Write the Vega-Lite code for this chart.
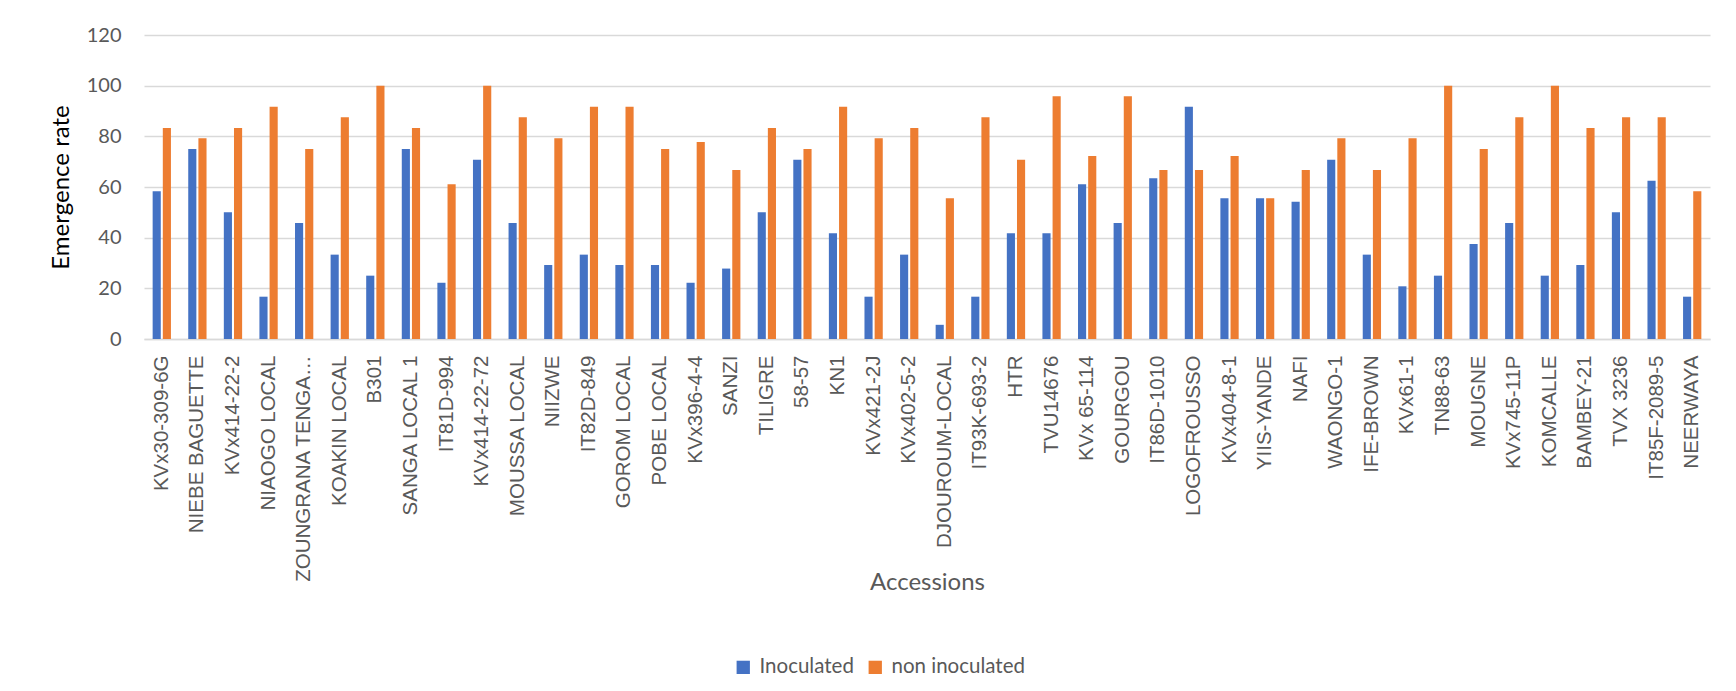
{
  "$schema": "https://vega.github.io/schema/vega-lite/v6.json",
  "width": 1566,
  "height": 304,
  "autosize": {"type": "none"},
  "padding": {"left": 144, "top": 35, "right": 26, "bottom": 352},
  "background": "white",
  "config": {"view": {"stroke": null}},
  "data": {
    "values": [
      {"accession": "KVx30-309-6G", "treatment": "Inoculated", "rate": 58.3},
      {"accession": "KVx30-309-6G", "treatment": "non inoculated", "rate": 83.3},
      {"accession": "NIEBE BAGUETTE", "treatment": "Inoculated", "rate": 75},
      {"accession": "NIEBE BAGUETTE", "treatment": "non inoculated", "rate": 79.2},
      {"accession": "KVx414-22-2", "treatment": "Inoculated", "rate": 50},
      {"accession": "KVx414-22-2", "treatment": "non inoculated", "rate": 83.3},
      {"accession": "NIAOGO LOCAL", "treatment": "Inoculated", "rate": 16.7},
      {"accession": "NIAOGO LOCAL", "treatment": "non inoculated", "rate": 91.7},
      {"accession": "ZOUNGRANA TENGA…", "treatment": "Inoculated", "rate": 45.8},
      {"accession": "ZOUNGRANA TENGA…", "treatment": "non inoculated", "rate": 75},
      {"accession": "KOAKIN LOCAL", "treatment": "Inoculated", "rate": 33.3},
      {"accession": "KOAKIN LOCAL", "treatment": "non inoculated", "rate": 87.5},
      {"accession": "B301", "treatment": "Inoculated", "rate": 25},
      {"accession": "B301", "treatment": "non inoculated", "rate": 100},
      {"accession": "SANGA LOCAL 1", "treatment": "Inoculated", "rate": 75},
      {"accession": "SANGA LOCAL 1", "treatment": "non inoculated", "rate": 83.3},
      {"accession": "IT81D-994", "treatment": "Inoculated", "rate": 22.2},
      {"accession": "IT81D-994", "treatment": "non inoculated", "rate": 61.1},
      {"accession": "KVx414-22-72", "treatment": "Inoculated", "rate": 70.8},
      {"accession": "KVx414-22-72", "treatment": "non inoculated", "rate": 100},
      {"accession": "MOUSSA LOCAL", "treatment": "Inoculated", "rate": 45.8},
      {"accession": "MOUSSA LOCAL", "treatment": "non inoculated", "rate": 87.5},
      {"accession": "NIIZWE", "treatment": "Inoculated", "rate": 29.2},
      {"accession": "NIIZWE", "treatment": "non inoculated", "rate": 79.2},
      {"accession": "IT82D-849", "treatment": "Inoculated", "rate": 33.3},
      {"accession": "IT82D-849", "treatment": "non inoculated", "rate": 91.7},
      {"accession": "GOROM LOCAL", "treatment": "Inoculated", "rate": 29.2},
      {"accession": "GOROM LOCAL", "treatment": "non inoculated", "rate": 91.7},
      {"accession": "POBE LOCAL", "treatment": "Inoculated", "rate": 29.2},
      {"accession": "POBE LOCAL", "treatment": "non inoculated", "rate": 75},
      {"accession": "KVx396-4-4", "treatment": "Inoculated", "rate": 22.2},
      {"accession": "KVx396-4-4", "treatment": "non inoculated", "rate": 77.8},
      {"accession": "SANZI", "treatment": "Inoculated", "rate": 27.8},
      {"accession": "SANZI", "treatment": "non inoculated", "rate": 66.7},
      {"accession": "TILIGRE", "treatment": "Inoculated", "rate": 50},
      {"accession": "TILIGRE", "treatment": "non inoculated", "rate": 83.3},
      {"accession": "58-57", "treatment": "Inoculated", "rate": 70.8},
      {"accession": "58-57", "treatment": "non inoculated", "rate": 75},
      {"accession": "KN1", "treatment": "Inoculated", "rate": 41.7},
      {"accession": "KN1", "treatment": "non inoculated", "rate": 91.7},
      {"accession": "KVx421-2J", "treatment": "Inoculated", "rate": 16.7},
      {"accession": "KVx421-2J", "treatment": "non inoculated", "rate": 79.2},
      {"accession": "KVx402-5-2", "treatment": "Inoculated", "rate": 33.3},
      {"accession": "KVx402-5-2", "treatment": "non inoculated", "rate": 83.3},
      {"accession": "DJOUROUM-LOCAL", "treatment": "Inoculated", "rate": 5.6},
      {"accession": "DJOUROUM-LOCAL", "treatment": "non inoculated", "rate": 55.6},
      {"accession": "IT93K-693-2", "treatment": "Inoculated", "rate": 16.7},
      {"accession": "IT93K-693-2", "treatment": "non inoculated", "rate": 87.5},
      {"accession": "HTR", "treatment": "Inoculated", "rate": 41.7},
      {"accession": "HTR", "treatment": "non inoculated", "rate": 70.8},
      {"accession": "TVU14676", "treatment": "Inoculated", "rate": 41.7},
      {"accession": "TVU14676", "treatment": "non inoculated", "rate": 95.8},
      {"accession": "KVx 65-114", "treatment": "Inoculated", "rate": 61.1},
      {"accession": "KVx 65-114", "treatment": "non inoculated", "rate": 72.2},
      {"accession": "GOURGOU", "treatment": "Inoculated", "rate": 45.8},
      {"accession": "GOURGOU", "treatment": "non inoculated", "rate": 95.8},
      {"accession": "IT86D-1010", "treatment": "Inoculated", "rate": 63.5},
      {"accession": "IT86D-1010", "treatment": "non inoculated", "rate": 66.7},
      {"accession": "LOGOFROUSSO", "treatment": "Inoculated", "rate": 91.7},
      {"accession": "LOGOFROUSSO", "treatment": "non inoculated", "rate": 66.7},
      {"accession": "KVx404-8-1", "treatment": "Inoculated", "rate": 55.6},
      {"accession": "KVx404-8-1", "treatment": "non inoculated", "rate": 72.2},
      {"accession": "YIIS-YANDE", "treatment": "Inoculated", "rate": 55.6},
      {"accession": "YIIS-YANDE", "treatment": "non inoculated", "rate": 55.6},
      {"accession": "NAFI", "treatment": "Inoculated", "rate": 54.2},
      {"accession": "NAFI", "treatment": "non inoculated", "rate": 66.7},
      {"accession": "WAONGO-1", "treatment": "Inoculated", "rate": 70.8},
      {"accession": "WAONGO-1", "treatment": "non inoculated", "rate": 79.2},
      {"accession": "IFE-BROWN", "treatment": "Inoculated", "rate": 33.3},
      {"accession": "IFE-BROWN", "treatment": "non inoculated", "rate": 66.7},
      {"accession": "KVx61-1", "treatment": "Inoculated", "rate": 20.8},
      {"accession": "KVx61-1", "treatment": "non inoculated", "rate": 79.2},
      {"accession": "TN88-63", "treatment": "Inoculated", "rate": 25},
      {"accession": "TN88-63", "treatment": "non inoculated", "rate": 100},
      {"accession": "MOUGNE", "treatment": "Inoculated", "rate": 37.5},
      {"accession": "MOUGNE", "treatment": "non inoculated", "rate": 75},
      {"accession": "KVx745-11P", "treatment": "Inoculated", "rate": 45.8},
      {"accession": "KVx745-11P", "treatment": "non inoculated", "rate": 87.5},
      {"accession": "KOMCALLE", "treatment": "Inoculated", "rate": 25},
      {"accession": "KOMCALLE", "treatment": "non inoculated", "rate": 100},
      {"accession": "BAMBEY-21", "treatment": "Inoculated", "rate": 29.2},
      {"accession": "BAMBEY-21", "treatment": "non inoculated", "rate": 83.3},
      {"accession": "TVX 3236", "treatment": "Inoculated", "rate": 50},
      {"accession": "TVX 3236", "treatment": "non inoculated", "rate": 87.5},
      {"accession": "IT85F-2089-5", "treatment": "Inoculated", "rate": 62.5},
      {"accession": "IT85F-2089-5", "treatment": "non inoculated", "rate": 87.5},
      {"accession": "NEERWAYA", "treatment": "Inoculated", "rate": 16.7},
      {"accession": "NEERWAYA", "treatment": "non inoculated", "rate": 58.3}
    ]
  },
  "mark": {"type": "bar"},
  "encoding": {
    "x": {
      "field": "accession",
      "type": "nominal",
      "sort": null,
      "scale": {"paddingInner": 0.486, "paddingOuter": 0.243},
      "axis": {
        "title": "Accessions",
        "titleFont": "Lato",
        "titleFontSize": 24,
        "titleFontWeight": "normal",
        "titleColor": "#595959",
        "titleX": 783,
        "titleY": 243,
        "titleAlign": "center",
        "titleBaseline": "middle",
        "labelAngle": -90,
        "labelFont": "Liberation Sans",
        "labelFontSize": 20.5,
        "labelColor": "#595959",
        "labelPadding": 16,
        "labelLimit": 400,
        "ticks": false,
        "domainColor": "#d9d9d9",
        "domainWidth": 1.5,
        "grid": false
      }
    },
    "xOffset": {
      "field": "treatment",
      "type": "nominal",
      "scale": {"paddingInner": 0.2, "paddingOuter": 0}
    },
    "y": {
      "field": "rate",
      "type": "quantitative",
      "scale": {"domain": [0, 120], "nice": false},
      "axis": {
        "title": "Emergence rate",
        "titleFont": "Lato",
        "titleFontSize": 24,
        "titleFontWeight": "normal",
        "titleColor": "#000000",
        "titleAngle": -90,
        "titleX": -83,
        "titleY": 152,
        "titleAlign": "center",
        "titleBaseline": "middle",
        "values": [0, 20, 40, 60, 80, 100, 120],
        "labelFont": "Lato",
        "labelFontSize": 20,
        "labelColor": "#595959",
        "labelPadding": 23,
        "ticks": false,
        "domain": false,
        "grid": true,
        "gridColor": "#d9d9d9",
        "gridWidth": 1.3
      }
    },
    "color": {
      "field": "treatment",
      "type": "nominal",
      "scale": {"domain": ["Inoculated", "non inoculated"], "range": ["#4472C4", "#ED7D31"]},
      "legend": {
        "title": null,
        "orient": "none",
        "direction": "horizontal",
        "legendX": 589,
        "legendY": 622,
        "symbolType": "square",
        "symbolSize": 177,
        "symbolStrokeWidth": 0,
        "labelFont": "Lato",
        "labelFontSize": 20.5,
        "labelColor": "#595959",
        "labelOffset": 6,
        "columnPadding": 11
      }
    }
  }
}
